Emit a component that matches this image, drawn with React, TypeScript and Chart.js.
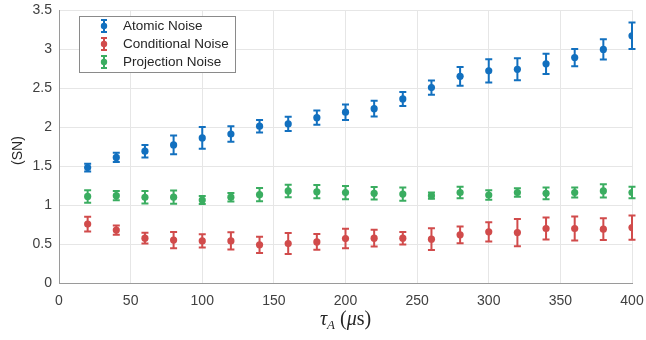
import React, { useEffect, useRef } from "react";
import { Chart, registerables } from "chart.js";

Chart.register(...registerables);

const tauA = [20, 40, 60, 80, 100, 120, 140, 160, 180, 200, 220, 240, 260, 280, 300, 320, 340, 360, 380, 400];

const atomicNoise = [1.48, 1.61, 1.69, 1.77, 1.86, 1.91, 2.01, 2.04, 2.12, 2.19, 2.235, 2.36, 2.505, 2.65, 2.72, 2.74, 2.81, 2.89, 2.995, 3.17];
const atomicErr = [0.05, 0.06, 0.08, 0.12, 0.14, 0.1, 0.08, 0.09, 0.09, 0.1, 0.1, 0.09, 0.09, 0.12, 0.15, 0.14, 0.13, 0.11, 0.13, 0.17];

const conditionalNoise = [0.755, 0.678, 0.575, 0.55, 0.54, 0.54, 0.489, 0.506, 0.527, 0.57, 0.575, 0.575, 0.562, 0.617, 0.656, 0.647, 0.699, 0.699, 0.69, 0.71];
const conditionalErr = [0.095, 0.058, 0.07, 0.105, 0.085, 0.11, 0.105, 0.135, 0.1, 0.125, 0.107, 0.08, 0.14, 0.107, 0.123, 0.175, 0.14, 0.155, 0.14, 0.155];

const projectionNoise = [1.11, 1.12, 1.098, 1.1, 1.064, 1.1, 1.132, 1.18, 1.17, 1.16, 1.15, 1.14, 1.12, 1.16, 1.128, 1.16, 1.15, 1.16, 1.18, 1.16];
const projectionErr = [0.08, 0.06, 0.08, 0.085, 0.05, 0.055, 0.085, 0.08, 0.085, 0.085, 0.08, 0.085, 0.04, 0.075, 0.06, 0.055, 0.075, 0.065, 0.085, 0.075];

const seriesNames = ["Atomic Noise", "Conditional Noise", "Projection Noise"];
const seriesColors = ["#1270bf", "#d14b4b", "#3aad60"];

const xTicks = [0, 50, 100, 150, 200, 250, 300, 350, 400];
const yTicks = [0, 0.5, 1, 1.5, 2, 2.5, 3, 3.5];

const FONT = "'Liberation Sans', Arial, sans-serif";

const seriesVals = [atomicNoise, conditionalNoise, projectionNoise];
const seriesErrs = [atomicErr, conditionalErr, projectionErr];

const errorBarPlugin = {
  id: "errorBars",
  beforeDatasetsDraw(chart: any) {
    const { ctx, scales } = chart;
    const xs = scales.x;
    const ys = scales.y;
    ctx.save();
    seriesVals.forEach((vals, si) => {
      ctx.strokeStyle = seriesColors[si];
      ctx.lineWidth = 2;
      vals.forEach((v, i) => {
        const px = xs.getPixelForValue(tauA[i]);
        const top = ys.getPixelForValue(v + seriesErrs[si][i]);
        const bot = ys.getPixelForValue(v - seriesErrs[si][i]);
        const cw = 3.5;
        ctx.beginPath();
        ctx.moveTo(px, top);
        ctx.lineTo(px, bot);
        ctx.moveTo(px - cw, top);
        ctx.lineTo(px + cw, top);
        ctx.moveTo(px - cw, bot);
        ctx.lineTo(px + cw, bot);
        ctx.stroke();
      });
    });
    ctx.restore();
  },
};

const decorPlugin = {
  id: "decor",
  afterDraw(chart: any) {
    const { ctx, chartArea } = chart;
    ctx.save();
    // legend
    const lx = 79, ly = 16, lw = 156, lh = 56;
    ctx.fillStyle = "#ffffff";
    ctx.fillRect(lx, ly, lw, lh);
    ctx.strokeStyle = "#8a8a8a";
    ctx.lineWidth = 1;
    ctx.strokeRect(lx + 0.5, ly + 0.5, lw, lh);
    const rows = [26, 44, 62];
    seriesNames.forEach((name, i) => {
      const cy = rows[i];
      const mx = 104;
      ctx.strokeStyle = seriesColors[i];
      ctx.fillStyle = seriesColors[i];
      ctx.lineWidth = 2;
      ctx.beginPath();
      ctx.moveTo(mx, cy - 6);
      ctx.lineTo(mx, cy + 6);
      ctx.moveTo(mx - 3, cy - 6);
      ctx.lineTo(mx + 3, cy - 6);
      ctx.moveTo(mx - 3, cy + 6);
      ctx.lineTo(mx + 3, cy + 6);
      ctx.stroke();
      ctx.beginPath();
      ctx.arc(mx, cy, 3.2, 0, Math.PI * 2);
      ctx.fill();
      ctx.fillStyle = "#262626";
      ctx.font = `13.5px ${FONT}`;
      ctx.textBaseline = "middle";
      ctx.textAlign = "left";
      ctx.fillText(name, 123, cy + 0.5);
    });
    // y title
    ctx.save();
    ctx.translate(18, (chartArea.top + chartArea.bottom) / 2 + 4);
    ctx.rotate(-Math.PI / 2);
    ctx.fillStyle = "#262626";
    ctx.font = `14px ${FONT}`;
    ctx.textAlign = "center";
    ctx.textBaseline = "middle";
    ctx.fillText("(SN)", 0, 0);
    ctx.restore();
    // x title: tau_A (mu s)
    const parts = [
      { t: "τ", f: `italic 20px 'Liberation Serif', serif`, dy: 0 },
      { t: "A", f: `italic 13px 'Liberation Serif', serif`, dy: 4 },
      { t: " (", f: `20px 'Liberation Serif', serif`, dy: 0 },
      { t: "μ", f: `italic 20px 'Liberation Serif', serif`, dy: 0 },
      { t: "s)", f: `20px 'Liberation Serif', serif`, dy: 0 },
    ];
    let total = 0;
    const widths: number[] = [];
    parts.forEach((p) => {
      ctx.font = p.f;
      const w = ctx.measureText(p.t).width;
      widths.push(w);
      total += w;
    });
    let cx = (chartArea.left + chartArea.right) / 2 - total / 2;
    ctx.fillStyle = "#262626";
    ctx.textAlign = "left";
    ctx.textBaseline = "alphabetic";
    parts.forEach((p, i) => {
      ctx.font = p.f;
      ctx.fillText(p.t, cx, 325 + p.dy);
      cx += widths[i];
    });
    ctx.restore();
  },
};

export default function App() {
  const ref = useRef<HTMLCanvasElement | null>(null);
  useEffect(() => {
    if (!ref.current) return;
    const datasets = seriesNames.map((name, si) => ({
      label: name,
      data: tauA.map((x, i) => ({ x, y: seriesVals[si][i] })),
      backgroundColor: seriesColors[si],
      borderColor: seriesColors[si],
      pointRadius: 3.6,
      pointHoverRadius: 3.6,
      pointBorderWidth: 0,
      showLine: false,
    }));
    const chart = new Chart(ref.current, {
      type: "scatter",
      data: { datasets },
      options: {
        animation: false,
        responsive: true,
        maintainAspectRatio: false,
        layout: { padding: { top: 10, right: 14, left: 0, bottom: 0 } },
        plugins: { legend: { display: false }, tooltip: { enabled: false } },
        scales: {
          x: {
            type: "linear",
            min: 0,
            max: 400,
            afterBuildTicks: (s: any) => {
              s.ticks = xTicks.map((v) => ({ value: v }));
            },
            afterFit: (s: any) => {
              s.height = 57;
              s.paddingLeft = 0;
              s.paddingRight = 0;
            },
            ticks: {
              padding: 10,
              color: "#404040",
              font: { family: FONT, size: 14 },
              maxRotation: 0,
            },
            grid: { color: "#e6e6e6", drawTicks: false, lineWidth: 1 },
            border: { display: true, color: "#9a9a9a", width: 1 },
          },
          y: {
            type: "linear",
            min: 0,
            max: 3.5,
            afterBuildTicks: (s: any) => {
              s.ticks = yTicks.map((v) => ({ value: v }));
            },
            afterFit: (s: any) => {
              s.width = 59;
              s.paddingTop = 0;
              s.paddingBottom = 0;
            },
            ticks: {
              padding: 7,
              color: "#404040",
              font: { family: FONT, size: 14 },
              callback: (v: any) => String(v),
            },
            grid: { color: "#e6e6e6", drawTicks: false, lineWidth: 1 },
            border: { display: true, color: "#9a9a9a", width: 1 },
          },
        },
      },
      plugins: [errorBarPlugin, decorPlugin],
    });
    return () => chart.destroy();
  }, []);
  return (
    <div style={{ position: "absolute", left: 0, top: 0, width: 646, height: 340, background: "#fff" }}>
      <canvas ref={ref} />
    </div>
  );
}
